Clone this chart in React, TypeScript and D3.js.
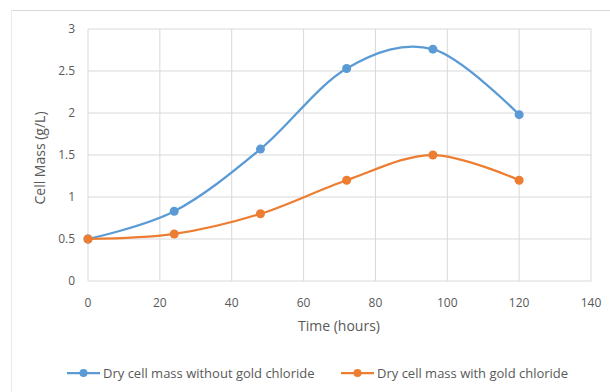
import React from "react";
import * as d3 from "d3";

const timeHours = [0, 24, 48, 72, 96, 120];
const withoutGold = [0.5, 0.83, 1.57, 2.53, 2.76, 1.98];
const withGold = [0.5, 0.56, 0.8, 1.2, 1.5, 1.2];
const xTicks = [0, 20, 40, 60, 80, 100, 120, 140];
const yTicks = [0, 0.5, 1, 1.5, 2, 2.5, 3];
const seriesNames = ["Dry cell mass without gold chloride", "Dry cell mass with gold chloride"];
const colors = ["#5B9BD5", "#ED7D31"];

export default function App() {
  const W = 610, H = 392;
  const x = d3.scaleLinear().domain([0, 140]).range([88, 591]);
  const y = d3.scaleLinear().domain([0, 3]).range([281, 29]);
  const line = d3.line<[number, number]>()
    .x(d => x(d[0])).y(d => y(d[1]))
    .curve(d3.curveCardinal.tension(0));
  const series = [withoutGold, withGold];
  const font = "'Open Sans', 'Liberation Sans', sans-serif";
  const legendX = [67, 341];
  return (
    <svg width={W} height={H} style={{ position: "absolute", left: 0, top: 0, background: "#fff" }} fontFamily={font}>
      <rect x={0} y={0} width={W} height={H} fill="#fff" />
      <line x1={11} x2={610} y1={10.5} y2={10.5} stroke="#D9D9D9" strokeWidth={1} />
      <line x1={11.5} x2={11.5} y1={10} y2={392} stroke="#EAEAEA" strokeWidth={1} />
      {yTicks.map(t => (
        <g key={"y" + t}>
          <line x1={x(0)} x2={x(140)} y1={y(t)} y2={y(t)} stroke="#D9D9D9" strokeWidth={1} />
          <text x={75} y={y(t)} dy="0.35em" textAnchor="end" fontSize={12} fill="#595959">{t}</text>
        </g>
      ))}
      {xTicks.map(t => (
        <g key={"x" + t}>
          <line x1={x(t)} x2={x(t)} y1={y(0)} y2={y(3)} stroke="#D9D9D9" strokeWidth={1} />
          <text x={x(t)} y={303} dy="0.35em" textAnchor="middle" fontSize={12} fill="#595959">{t}</text>
        </g>
      ))}
      <text x={339} y={326} dy="0.35em" textAnchor="middle" fontSize={14} fill="#595959">Time (hours)</text>
      <text transform={`translate(40,158) rotate(-90)`} dy="0.35em" textAnchor="middle" fontSize={14} fill="#595959">Cell Mass (g/L)</text>
      {series.map((vals, i) => {
        const pts: [number, number][] = timeHours.map((t, j) => [t, vals[j]]);
        return (
          <g key={"s" + i}>
            <path d={line(pts) || ""} fill="none" stroke={colors[i]} strokeWidth={2.25} />
            {pts.map((p, j) => (
              <circle key={j} cx={x(p[0])} cy={y(p[1])} r={4.5} fill={colors[i]} />
            ))}
          </g>
        );
      })}
      {seriesNames.map((n, i) => (
        <g key={"l" + i}>
          <line x1={legendX[i]} x2={legendX[i] + 33} y1={373} y2={373} stroke={colors[i]} strokeWidth={2.25} />
          <circle cx={legendX[i] + 16.5} cy={373} r={4} fill={colors[i]} />
          <text x={legendX[i] + 36} y={373} dy="0.35em" fontSize={13} fill="#595959">{n}</text>
        </g>
      ))}
    </svg>
  );
}
